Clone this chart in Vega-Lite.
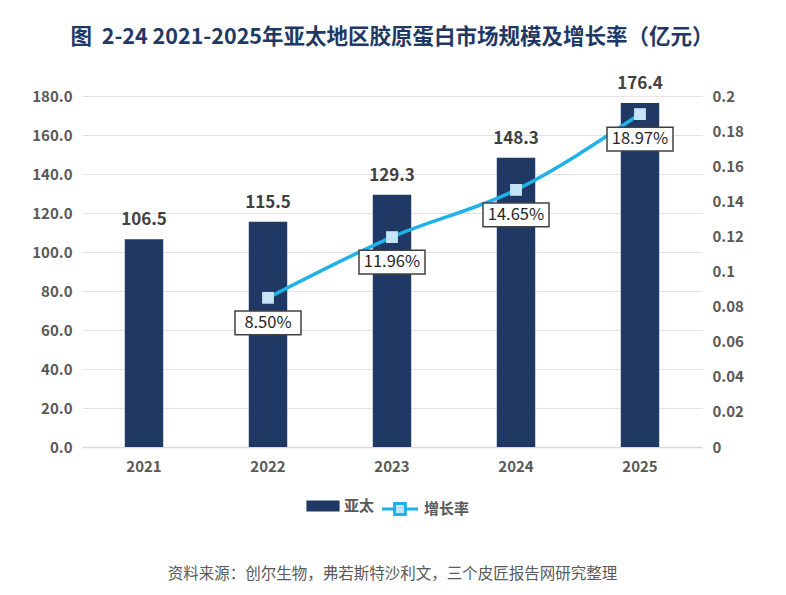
{
  "$schema": "https://vega.github.io/schema/vega-lite/v6.json",
  "autosize": {"type": "none"},
  "width": 620,
  "height": 351,
  "padding": {"left": 82, "top": 96, "right": 84, "bottom": 148},
  "background": "white",
  "title": {
    "text": "图\u00a0\u00a02-24 2021-2025年亚太地区胶原蛋白市场规模及增长率（亿元）",
    "font": "Noto Sans CJK SC",
    "fontSize": 21.5,
    "fontWeight": "bold",
    "color": "#1F3864",
    "anchor": "middle",
    "offset": 27
  },
  "data": {
    "values": [
      {"year": "2021", "value": 106.5, "rate": null},
      {"year": "2022", "value": 115.5, "rate": 0.085},
      {"year": "2023", "value": 129.3, "rate": 0.1196},
      {"year": "2024", "value": 148.3, "rate": 0.1465},
      {"year": "2025", "value": 176.4, "rate": 0.1897}
    ]
  },
  "config": {
    "view": {"stroke": null},
    "font": "Noto Sans CJK SC",
    "axis": {
      "labelFont": "Noto Sans CJK SC",
      "labelFontSize": 15,
      "labelFontWeight": "bold",
      "labelColor": "#595959",
      "ticks": false,
      "domain": false
    }
  },
  "encoding": {
    "x": {
      "field": "year",
      "type": "nominal",
      "scale": {"paddingInner": 0.69, "paddingOuter": 0.345},
      "axis": {
        "labelAngle": 0,
        "labelPadding": 12,
        "domain": true,
        "domainColor": "#d9d9d9",
        "domainWidth": 1.5,
        "title": "资料来源：创尔生物，弗若斯特沙利文，三个皮匠报告网研究整理",
        "titleFont": "Noto Sans CJK SC",
        "titleFontSize": 15.5,
        "titleFontWeight": "normal",
        "titleColor": "#595959",
        "titlePadding": 92
      }
    }
  },
  "layer": [
    {
      "encoding": {
        "y": {
          "field": "value",
          "type": "quantitative",
          "scale": {"domain": [0, 180]},
          "axis": {
            "title": null,
            "format": ".1f",
            "tickCount": 9,
            "labelPadding": 10,
            "gridColor": "#e3e3e3",
            "gridWidth": 1.2
          }
        }
      },
      "layer": [
        {
          "mark": {"type": "bar", "color": "#1F3864"},
          "encoding": {
            "color": {
              "datum": "亚太",
              "scale": {"range": ["#1F3864"]},
              "legend": {
                "title": null,
                "orient": "none",
                "legendX": 224,
                "legendY": 393,
                "symbolType": "M-1,-0.33H1V0.33H-1Z",
                "symbolSize": 1100,
                "symbolStrokeWidth": 0,
                "labelFont": "Noto Sans CJK SC",
                "labelFontSize": 15,
                "labelFontWeight": "bold",
                "labelColor": "#595959",
                "labelOffset": 4
              }
            }
          }
        },
        {
          "mark": {"type": "text", "baseline": "bottom", "dy": -10, "fontSize": 17, "fontWeight": "bold", "color": "#404040", "font": "Noto Sans CJK SC"},
          "encoding": {
            "text": {"field": "value", "type": "quantitative", "format": ".1f"}
          }
        }
      ]
    },
    {
      "transform": [{"filter": "datum.rate != null"}],
      "encoding": {
        "y": {
          "field": "rate",
          "type": "quantitative",
          "scale": {"domain": [0, 0.2]},
          "axis": {
            "title": null,
            "orient": "right",
            "format": "~f",
            "tickCount": 10,
            "labelPadding": 10,
            "grid": false
          }
        }
      },
      "layer": [
        {
          "mark": {"type": "line", "color": "#1FB1E8", "strokeWidth": 3.5, "interpolate": "monotone"},
          "encoding": {
            "stroke": {
              "datum": "增长率",
              "scale": {"range": ["#1FB1E8"]},
              "legend": {
                "title": null,
                "orient": "none",
                "legendX": 298,
                "legendY": 393,
                "symbolType": "M-1,0H-0.3M0.3,0H1M-0.3,-0.3H0.3V0.3H-0.3Z",
                "symbolSize": 1300,
                "symbolStrokeWidth": 3,
                "symbolFillColor": "#C5E4F7",
                "labelFont": "Noto Sans CJK SC",
                "labelFontSize": 15,
                "labelFontWeight": "bold",
                "labelColor": "#595959",
                "labelOffset": 4
              }
            }
          }
        },
        {
          "mark": {"type": "point", "shape": "square", "filled": true, "color": "#C5E4F7", "size": 140, "opacity": 1}
        },
        {
          "mark": {"type": "point", "shape": "M-1,-0.36H1V0.36H-1Z", "size": 4356, "filled": false, "fill": "white", "fillOpacity": 1, "stroke": "#404040", "strokeWidth": 1.5, "opacity": 1, "yOffset": 25}
        },
        {
          "mark": {"type": "text", "fontSize": 16.5, "color": "#262626", "font": "Noto Sans CJK SC", "yOffset": 25},
          "encoding": {
            "text": {"field": "rate", "type": "quantitative", "format": ".2%"}
          }
        }
      ]
    }
  ],
  "resolve": {"scale": {"y": "independent", "color": "independent", "stroke": "independent"}}
}
